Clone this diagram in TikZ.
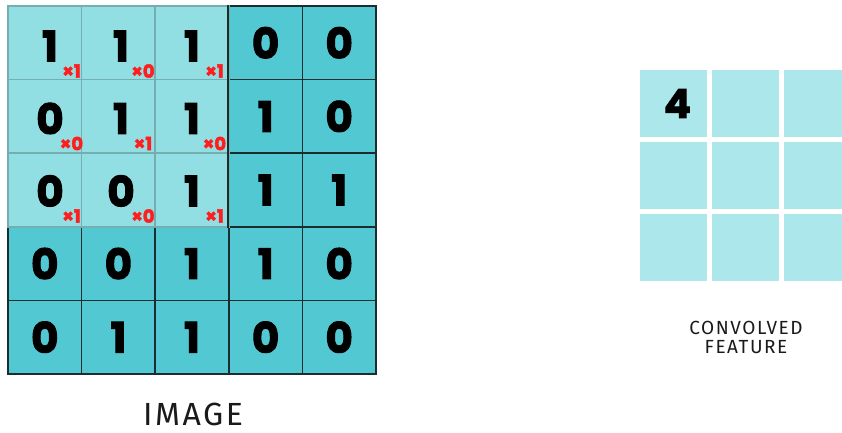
\documentclass[tikz,border=0pt]{standalone}
\usepackage{fontspec}
\setmainfont{Fira Sans}
\newfontfamily\numfont{Poppins}[BoldFeatures={FakeBold=2.5}]
\newfontfamily\capfont{Fira Sans}[LetterSpace=8]
\definecolor{darkcell}{HTML}{52C9D2}
\definecolor{lightcell}{HTML}{92DFE3}
\definecolor{outcell}{HTML}{ACE8EB}
\definecolor{lightborder}{HTML}{74AEB1}
\definecolor{darkborder}{HTML}{1A2E30}
\definecolor{kred}{HTML}{FF1E1E}
\definecolor{labelgray}{HTML}{1A1A1A}
\tikzset{
  digit/.style={font=\numfont\bfseries\fontsize{42}{42}\selectfont},
  darkbox/.style={draw=darkborder, fill=darkcell, line width=1.5pt, minimum width=73.6pt, minimum height=73.6pt, inner sep=0pt, digit},
  lightbox/.style={draw=lightborder, fill=lightcell, line width=1.5pt, minimum width=73.6pt, minimum height=73.6pt, inner sep=0pt},
  windigit/.style={inner sep=0pt, digit},
  kernlab/.style={text=kred, inner sep=0pt, font=\numfont\bfseries\fontsize{18}{18}\selectfont},
  outbox/.style={fill=outcell, minimum width=67pt, minimum height=67pt, inner sep=0pt},
  caption/.style={text=labelgray, inner sep=0pt, align=center}
}
\begin{document}
\begin{tikzpicture}[x=1pt,y=-1pt]
\useasboundingbox (0,0) rectangle (842,432);
% dark grid
\foreach \row/\vals in {1/{1,1,1,0,0},2/{0,1,1,1,0},3/{0,0,1,1,1},4/{0,0,1,1,0},5/{0,1,1,0,0}} {
  \foreach \v [count=\col] in \vals {
    \node[darkbox] (c-\row-\col) at ({8+73.6*(\col-0.5)},{6+73.6*(\row-0.5)}) {\v};
  }
}
% highlighted 3x3 window
\foreach \row in {1,2,3} {
  \foreach \col in {1,2,3} {
    \node[lightbox] (w-\row-\col) at ({8+73.6*(\col-0.5)},{6+73.6*(\row-0.5)}) {};
  }
}
\draw[darkborder, line width=1.5pt] (c-1-4.north west) -- (c-3-4.south west);
\foreach \row/\vals/\ks in {1/{1,1,1}/{1,0,1},2/{0,1,1}/{0,1,0},3/{0,0,1}/{1,0,1}} {
  \foreach \v [count=\col] in \vals {
    \node[windigit] (d-\row-\col) at ({50+71*(\col-1)},{46+72.5*(\row-1)}) {\v};
  }
  \foreach \k [count=\col] in \ks {
    \node[kernlab] (k-\row-\col) at ({71.5+71.5*(\col-1)},{71+72.5*(\row-1)}) {×\k};
  }
}
% convolved feature
\foreach \r in {1,2,3} {
  \foreach \c in {1,2,3} {
    \node[outbox] (o-\r-\c) at ({673.5+72*(\c-1)},{103.5+72*(\r-1)}) {};
  }
}
\node[font=\numfont\bfseries\fontsize{40}{40}\selectfont, inner sep=0pt] (four) at ([xshift=4pt]o-1-1.center) {4};
% captions
\node[caption, font=\capfont\fontsize{32}{32}\selectfont] (imglabel) at (193,414) {IMAGE};
\node[caption, font=\capfont\fontsize{19}{19}\selectfont] (convlabel) at (746,337) {CONVOLVED\\FEATURE};
\end{tikzpicture}
\end{document}
